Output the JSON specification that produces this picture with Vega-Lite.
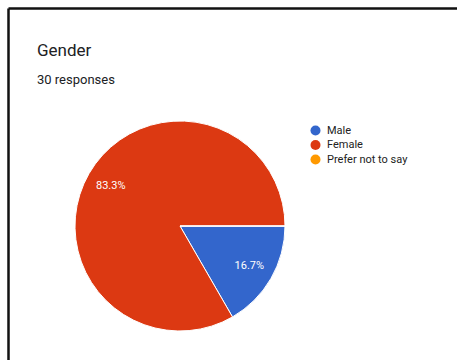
{
  "$schema": "https://vega.github.io/schema/vega-lite/v6.json",
  "width": 449,
  "height": 352,
  "autosize": {"type": "none"},
  "padding": {"left": 8, "top": 8, "right": 0, "bottom": 0},
  "background": "white",
  "view": {"stroke": null, "fill": "white"},
  "title": {
    "text": "Gender",
    "subtitle": "30 responses",
    "anchor": "start",
    "frame": "group",
    "orient": "top",
    "offset": -80,
    "dx": 29,
    "font": "Roboto",
    "fontSize": 17,
    "fontWeight": "normal",
    "color": "#202124",
    "subtitleFont": "Roboto",
    "subtitleFontSize": 13,
    "subtitleColor": "#202124",
    "subtitlePadding": 14
  },
  "data": {
    "values": [
      {"gender": "Male", "count": 5, "order": 1, "label": "16.7%"},
      {"gender": "Female", "count": 25, "order": 2, "label": "83.3%"},
      {"gender": "Prefer not to say", "count": 0, "order": 3, "label": ""}
    ]
  },
  "layer": [
    {
      "mark": {"type": "point", "opacity": 0},
      "encoding": {
        "x": {"field": "count", "type": "quantitative", "axis": {"orient": "top", "domain": true, "domainColor": "#111111", "domainWidth": 2.5, "ticks": false, "labels": false, "grid": false, "title": null}},
        "y": {"field": "count", "type": "quantitative", "axis": {"orient": "left", "domain": true, "domainColor": "#111111", "domainWidth": 2.5, "ticks": false, "labels": false, "grid": false, "title": null}}
      }
    },
    {
      "mark": {"type": "arc", "outerRadius": 105, "x": 172, "y": 218, "stroke": "white", "strokeWidth": 1},
      "encoding": {
        "theta": {"field": "count", "type": "quantitative", "stack": true, "scale": {"range": [1.5708, 7.854]}},
        "order": {"field": "order", "type": "quantitative"},
        "color": {
          "field": "gender",
          "type": "nominal",
          "sort": ["Male", "Female", "Prefer not to say"],
          "scale": {"domain": ["Male", "Female", "Prefer not to say"], "range": ["#3366CC", "#DC3912", "#FF9900"]},
          "legend": {
            "title": null,
            "orient": "none",
            "legendX": 302,
            "legendY": 117,
            "symbolType": "circle",
            "symbolSize": 100,
            "symbolStrokeWidth": 0,
            "labelFont": "Roboto",
            "labelFontSize": 11,
            "labelColor": "#222222",
            "rowPadding": 2.5,
            "labelOffset": 6
          }
        }
      }
    },
    {
      "transform": [{"filter": "datum.count > 0"}],
      "mark": {"type": "text", "radius": 80, "x": 172, "y": 218, "color": "white", "font": "Roboto", "fontSize": 11},
      "encoding": {
        "theta": {"field": "count", "type": "quantitative", "stack": true},
        "order": {"field": "order", "type": "quantitative"},
        "text": {"field": "label", "type": "nominal"}
      }
    }
  ]
}
